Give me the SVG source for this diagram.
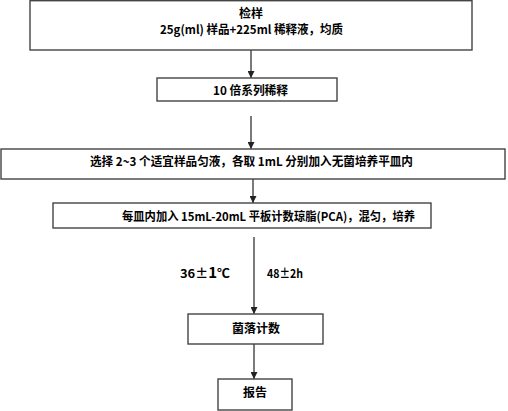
<svg xmlns="http://www.w3.org/2000/svg" width="508" height="411" viewBox="0 0 508 411">
<defs>
<marker id="ah" viewBox="0 0 10 10" refX="10" refY="5" markerWidth="7" markerHeight="7" orient="auto" markerUnits="userSpaceOnUse">
<path d="M0,0 L10,5 L0,10 z" fill="#222"/>
</marker>
<style>
.box{fill:#fff;stroke:#444;stroke-width:1.4}
.t{font-family:"Noto Sans CJK SC","Liberation Sans",sans-serif;font-size:12px;font-weight:bold;fill:#000}
.c{stroke:#333;stroke-width:1.3;fill:none;marker-end:url(#ah)}
</style>
</defs>
<rect width="508" height="411" fill="#fff"/>
<g id="connectors">
<line class="c" x1="251" y1="50" x2="251" y2="78"/>
<line class="c" x1="251" y1="116" x2="251" y2="149"/>
<line class="c" x1="253" y1="179" x2="253" y2="203"/>
<line class="c" x1="254" y1="237" x2="254" y2="314"/>
<line class="c" x1="254" y1="344" x2="254" y2="379"/>
</g>
<g id="n1">
<rect class="box" x="30" y="0.7" width="442" height="49.3"/>
<text class="t" x="251" y="18" text-anchor="middle">检样</text>
<text class="t" x="160" y="34" textLength="183" lengthAdjust="spacingAndGlyphs">25g(ml) 样品+225ml 稀释液，均质</text>
</g>
<g id="n2">
<rect class="box" x="157" y="78" width="180" height="23"/>
<text class="t" x="213" y="95" textLength="75" lengthAdjust="spacingAndGlyphs">10 倍系列稀释</text>
</g>
<g id="n3">
<rect class="box" x="1" y="149" width="504" height="30"/>
<text class="t" x="90" y="166" textLength="323" lengthAdjust="spacingAndGlyphs">选择 2~3 个适宜样品匀液，各取 1mL 分别加入无菌培养平皿内</text>
</g>
<g id="n4">
<rect class="box" x="53" y="203" width="378" height="25"/>
<text class="t" x="122" y="221" textLength="293" lengthAdjust="spacingAndGlyphs">每皿内加入 15mL-20mL 平板计数琼脂(PCA)，混匀，培养</text>
</g>
<g id="labels">
<text class="t" x="180" y="278" textLength="50" lengthAdjust="spacingAndGlyphs">36±<tspan font-size="14">1</tspan>℃</text>
<text class="t" x="267" y="278" textLength="36" lengthAdjust="spacingAndGlyphs">48±2h</text>
</g>
<g id="n5">
<rect class="box" x="188" y="314" width="135" height="30"/>
<text class="t" x="256" y="333" text-anchor="middle">菌落计数</text>
</g>
<g id="n6">
<rect class="box" x="218" y="379" width="74" height="31"/>
<text class="t" x="255" y="397" text-anchor="middle">报告</text>
</g>
</svg>
